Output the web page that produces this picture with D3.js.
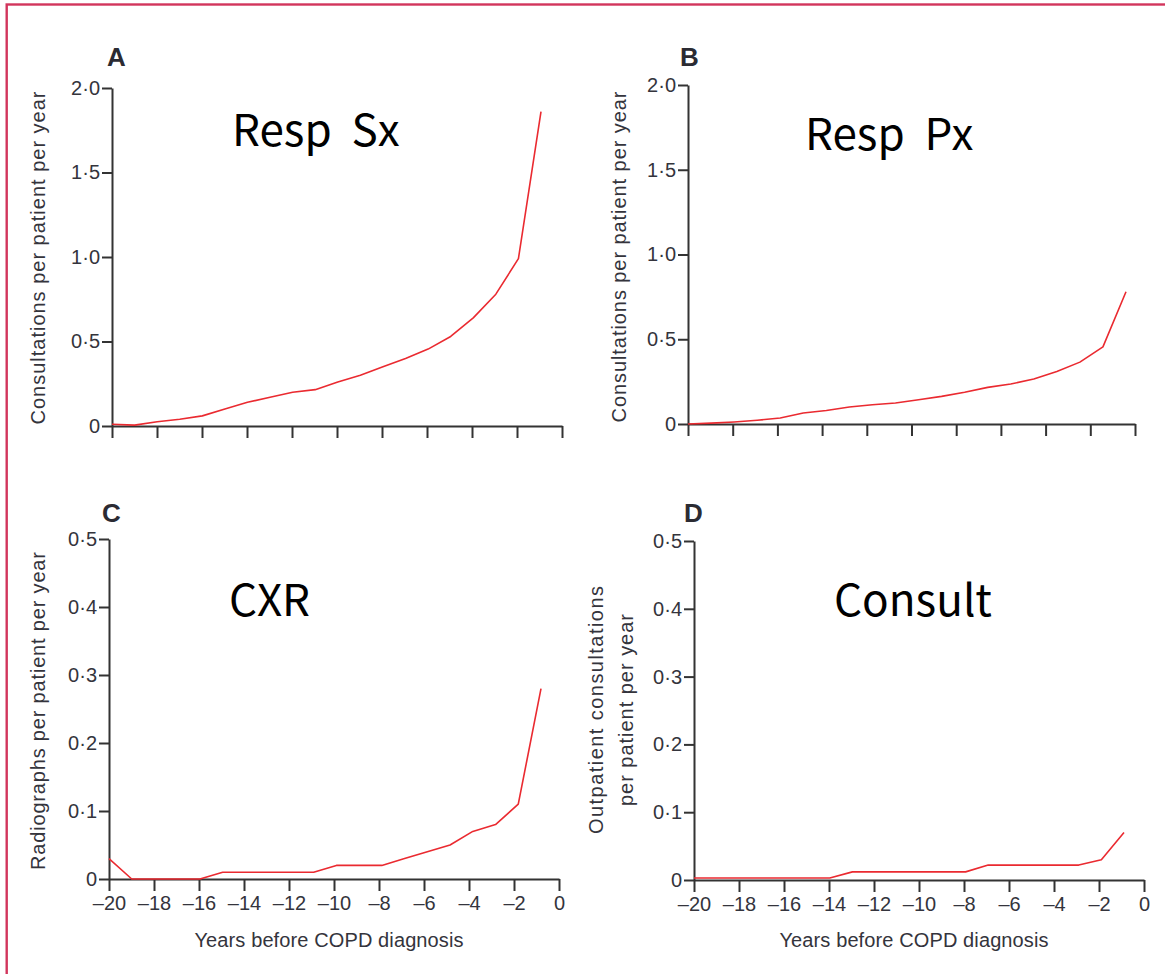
<!DOCTYPE html>
<html>
<head>
<meta charset="utf-8">
<script src="https://cdn.jsdelivr.net/npm/d3@7"></script>
<style>
  body { margin: 0; background: #fff; }
  svg { display: block; }
</style>
</head>
<body>
<svg id="chart" width="1165" height="974"></svg>
<script>
// Years before diagnosis (one value per year)
const years = [-20, -19, -18, -17, -16, -15, -14, -13, -12, -11, -10, -9, -8, -7, -6, -5, -4, -3, -2, -1];

// A: respiratory symptom consultations per patient per year
const respSx = [0.01, 0.005, 0.025, 0.04, 0.06, 0.10, 0.14, 0.17, 0.20, 0.215, 0.26, 0.30, 0.35, 0.40, 0.455, 0.53, 0.64, 0.78, 0.99, 1.86];
// B: respiratory problem consultations per patient per year
const respPx = [0.0, 0.005, 0.012, 0.022, 0.035, 0.065, 0.08, 0.10, 0.114, 0.124, 0.143, 0.163, 0.187, 0.216, 0.236, 0.265, 0.31, 0.365, 0.455, 0.78];
// C: chest radiographs per patient per year
const cxr = [0.03, 0.0, 0.0, 0.0, 0.0, 0.01, 0.01, 0.01, 0.01, 0.01, 0.02, 0.02, 0.02, 0.03, 0.04, 0.05, 0.07, 0.08, 0.11, 0.28];
// D: outpatient consultations per patient per year
const consult = [0.003, 0.003, 0.003, 0.003, 0.003, 0.003, 0.003, 0.012, 0.012, 0.012, 0.012, 0.012, 0.012, 0.022, 0.022, 0.022, 0.022, 0.022, 0.03, 0.07];

const xTicks = [-20, -18, -16, -14, -12, -10, -8, -6, -4, -2, 0];
const yTicksTop = [0, 0.5, 1.0, 1.5, 2.0];
const yTicksBottom = [0, 0.1, 0.2, 0.3, 0.4, 0.5];

const panelLetters = ["A", "B", "C", "D"];
const panelNames = ["Resp  Sx", "Resp  Px", "CXR", "Consult"];
const yTitles = [
  ["Consultations per patient per year"],
  ["Consultations per patient per year"],
  ["Radiographs per patient per year"],
  ["Outpatient consultations", "per patient per year"]
];
const xTitle = "Years before COPD diagnosis";

const seriesList = [respSx, respPx, cxr, consult];

// Plot boxes and text placement for each panel.
// lineEnd: horizontal extent of the plotted series (first to last year).
const panels = [
  { left: 112, right: 562, top: 88, bottom: 426, lineEnd: 541, yMax: 2.0, yTicks: yTicksTop, showX: false,
    letter: [107, 66], name: [232, 146], titleX: [45], titleY: 258, titleLen: [333] },
  { left: 688, right: 1135, top: 85, bottom: 424, lineEnd: 1126, yMax: 2.0, yTicks: yTicksTop, showX: false,
    letter: [680, 66], name: [805, 150], titleX: [626], titleY: 257, titleLen: [331] },
  { left: 109, right: 559, top: 539, bottom: 879, lineEnd: 541, yMax: 0.5, yTicks: yTicksBottom, showX: true,
    letter: [102, 522], name: [229, 616], titleX: [45], titleY: 711, titleLen: [318] },
  { left: 694, right: 1144, top: 541, bottom: 880, lineEnd: 1124, yMax: 0.5, yTicks: yTicksBottom, showX: true,
    letter: [684, 522], name: [834, 616], titleX: [603, 633], titleY: 710, titleLen: [248, 192] }
];

const FONT = '"Liberation Sans", Arial, sans-serif';
const TEXT = "#34343c";
const AXIS = "#333";
const RED = "#ea2a30";

const svg = d3.select("#chart");

svg.append("rect").attr("width", 1165).attr("height", 974).attr("fill", "#fff");

// outer frame
svg.append("rect")
  .attr("x", 6.7).attr("y", 4.5)
  .attr("width", 1200).attr("height", 1000)
  .attr("fill", "none")
  .attr("stroke", "#d2355c")
  .attr("stroke-width", 2.4);

const fmtY = d => d === 0 ? "0" : d.toFixed(1).replace(".", "\u00B7");
const fmtX = d => d === 0 ? "0" : "\u2013" + Math.abs(d);

panels.forEach((p, i) => {
  const x = d3.scaleLinear().domain([-20, 0]).range([p.left, p.right]);
  const xLine = d3.scaleLinear().domain([years[0], years[years.length - 1]]).range([p.left, p.lineEnd]);
  const y = d3.scaleLinear().domain([0, p.yMax]).range([p.bottom, p.top]);
  const g = svg.append("g");

  // y axis
  const yAxis = d3.axisLeft(y).tickValues(p.yTicks).tickFormat(fmtY)
    .tickSize(10).tickSizeOuter(0).tickPadding(2);
  const gy = g.append("g").attr("transform", `translate(${p.left},0)`).call(yAxis);

  // x axis
  const xAxis = d3.axisBottom(x).tickValues(xTicks)
    .tickFormat(p.showX ? fmtX : () => "")
    .tickSize(12).tickSizeOuter(0).tickPadding(5);
  const gx = g.append("g").attr("transform", `translate(0,${p.bottom})`).call(xAxis);

  [gy, gx].forEach(ax => {
    ax.select(".domain").attr("stroke", AXIS).attr("stroke-width", 2);
    ax.selectAll(".tick line").attr("stroke", AXIS).attr("stroke-width", 2);
    ax.selectAll(".tick text").attr("fill", TEXT)
      .style("font-family", FONT).style("font-size", "20px");
  });

  // data line
  const line = d3.line().x((d, j) => xLine(years[j])).y(d => y(d));
  g.append("path")
    .datum(seriesList[i])
    .attr("d", line)
    .attr("fill", "none")
    .attr("stroke", RED)
    .attr("stroke-width", 1.6)
    .attr("stroke-linejoin", "round");

  // panel letter
  g.append("text")
    .attr("x", p.letter[0]).attr("y", p.letter[1])
    .attr("fill", "#2b2b33")
    .style("font-family", '"Liberation Sans Narrow", "Liberation Sans", Arial, sans-serif')
    .style("font-weight", "bold").style("font-size", "26px")
    .text(panelLetters[i]);

  // large panel name
  g.append("text")
    .attr("x", p.name[0]).attr("y", p.name[1])
    .attr("fill", "#000")
    .style("font-family", '"Noto Sans CJK KR", "Noto Sans", sans-serif')
    .style("font-size", "44px")
    .style("white-space", "pre")
    .text(panelNames[i]);

  // y axis title (one or two lines)
  yTitles[i].forEach((t, k) => {
    g.append("text")
      .attr("transform", `translate(${p.titleX[k]},${p.titleY}) rotate(-90)`)
      .attr("text-anchor", "middle")
      .attr("fill", TEXT)
      .attr("textLength", p.titleLen[k])
      .attr("lengthAdjust", "spacing")
      .style("font-family", FONT).style("font-size", "20px")
      .text(t);
  });

  // x axis title
  if (p.showX) {
    g.append("text")
      .attr("x", (p.left + p.right) / 2 - 5).attr("y", 947)
      .attr("text-anchor", "middle")
      .attr("fill", TEXT)
      .attr("textLength", 269)
      .attr("lengthAdjust", "spacing")
      .style("font-family", FONT).style("font-size", "20px")
      .text(xTitle);
  }
});
</script>
</body>
</html>
